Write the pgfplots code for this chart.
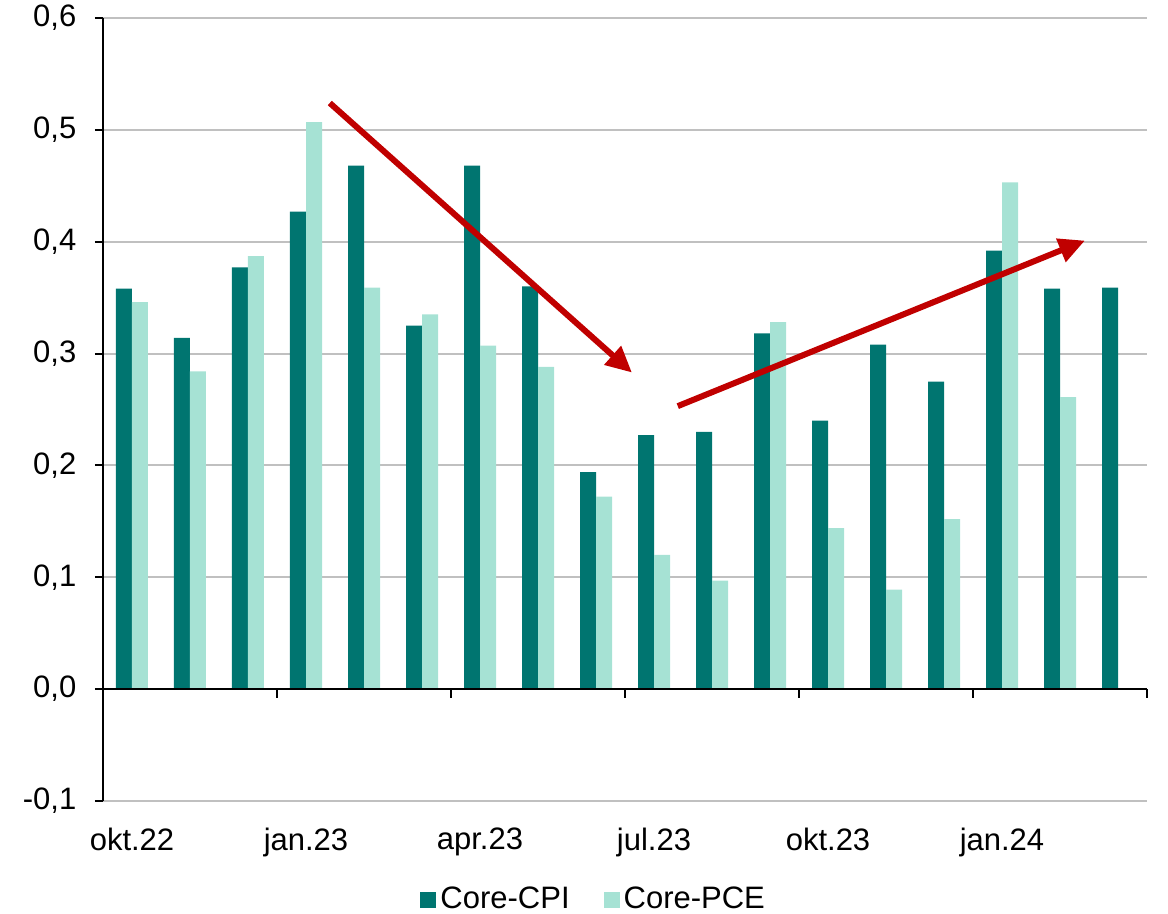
\documentclass[border=0pt]{standalone}
\usepackage{pgfplots}
\pgfplotsset{compat=1.18}
\usepackage{fontspec}
\setmainfont{Liberation Sans}
\usetikzlibrary{arrows.meta}

\definecolor{cpi}{HTML}{007570}
\definecolor{pce}{HTML}{A6E2D4}
\definecolor{arrowred}{HTML}{C00000}
\definecolor{gridgray}{HTML}{C0C0C0}

\begin{document}
\fontsize{15.5}{18}\selectfont
\begin{tikzpicture}
\begin{axis}[
    scale only axis,
    width=522pt, height=391.5pt,
    clip=false,
    ybar=0pt, bar width=8pt,
    xmin=-0.5, xmax=17.5,
    ymin=-0.1, ymax=0.6,
    ytick={-0.1,0,0.1,0.2,0.3,0.4,0.5,0.6},
    xtick={0,3,6,9,12,15},
    xticklabels={okt.22,jan.23,apr.23,jul.23,okt.23,jan.24},
    axis x line*=bottom,
    axis y line*=left,
    x axis line style={draw=none},
    y axis line style={line width=1pt, black},
    major x tick style={draw=none},
    ytick style={line width=1pt, black},
    tick align=outside,
    major tick length=4pt,
    ymajorgrids,
    grid style={line width=1pt, gridgray},
    xticklabel style={yshift=-4pt},
    yticklabel style={xshift=-4pt},
    /pgf/number format/.cd, use comma, fixed, fixed zerofill, precision=1, assume math mode=true,
    /pgfplots/.cd,
    legend columns=2,
    legend style={draw=none, at={(0.471,-0.126)}, anchor=center,
        /tikz/every even column/.append style={column sep=15pt}},
    legend image code/.code={\fill[#1] (0pt,-4pt) rectangle (8pt,4pt);},
]
\addplot[fill=cpi, draw=none] coordinates {
    (0,0.358) (1,0.314) (2,0.377) (3,0.427) (4,0.468) (5,0.325)
    (6,0.468) (7,0.360) (8,0.194) (9,0.227) (10,0.230) (11,0.318)
    (12,0.240) (13,0.308) (14,0.275) (15,0.392) (16,0.358) (17,0.359)
};
\addlegendentry{Core-CPI}
\addplot[fill=pce, draw=none] coordinates {
    (0,0.346) (1,0.284) (2,0.387) (3,0.507) (4,0.359) (5,0.335)
    (6,0.307) (7,0.288) (8,0.172) (9,0.120) (10,0.097) (11,0.328)
    (12,0.144) (13,0.089) (14,0.152) (15,0.453) (16,0.261)
};
\addlegendentry{Core-PCE}

% zero line with ticks between quarters
\draw[line width=1pt, black] (axis cs:-0.5,0) -- (axis cs:17.5,0);
\pgfplotsinvokeforeach{2.5,5.5,8.5,11.5,14.5,17.5}{
    \draw[line width=1pt, black] (axis cs:#1,0) -- ([yshift=-4.5pt]axis cs:#1,0);
}

% trend arrows
\draw[arrowred, line width=3pt, -{Triangle[length=13pt,width=12pt]}]
    (axis cs:3.41,0.524) -- (axis cs:8.62,0.283);
\draw[arrowred, line width=3pt, -{Triangle[length=13pt,width=12pt]}]
    (axis cs:9.41,0.253) -- (axis cs:16.43,0.401);
\end{axis}
% page margins as in the reference
\pgfresetboundingbox
\path ([xshift=-51.5pt,yshift=9pt]current axis.north west)
      ([xshift=10.5pt,yshift=-56.5pt]current axis.south east);
\end{tikzpicture}
\end{document}
